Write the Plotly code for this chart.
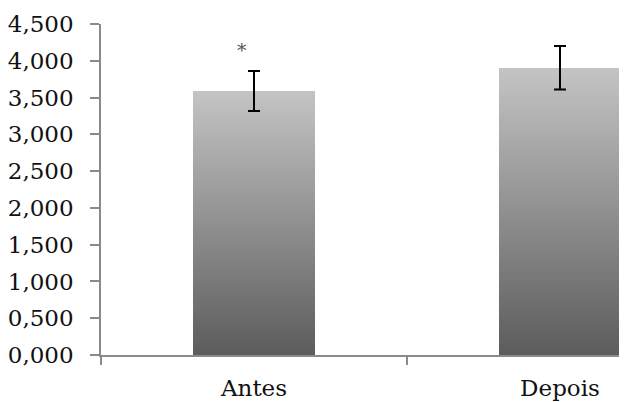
import plotly.graph_objects as go

categories = ["Antes", "Depois"]
means = [3.59, 3.905]
errors = [0.272, 0.296]
y_ticks = [0.0, 0.5, 1.0, 1.5, 2.0, 2.5, 3.0, 3.5, 4.0, 4.5]
star_label = "*"

x_pos = list(range(len(categories)))
N = 80
top_rgb = (196, 196, 196)
bot_rgb = (92, 92, 92)

fig = go.Figure()
for i in range(N):
    f = (i + 0.5) / N
    c = tuple(round(b + (t - b) * f) for t, b in zip(top_rgb, bot_rgb))
    bases = [v * i / N for v in means]
    heights = [v - b for v, b in zip(means, bases)]
    fig.add_trace(go.Bar(
        x=x_pos, y=heights, base=bases, width=0.4,
        marker=dict(color="rgb(%d,%d,%d)" % c, line=dict(width=0)),
        showlegend=False, hoverinfo="skip"))

fig.add_trace(go.Scatter(
    x=x_pos, y=means, mode="markers",
    marker=dict(opacity=0, size=1),
    error_y=dict(type="data", array=errors, visible=True,
                 color="black", thickness=2, width=6),
    showlegend=False, hoverinfo="skip"))

fig.add_annotation(x=-0.04, y=4.14, text=star_label, showarrow=False,
                   font=dict(family="DejaVu Serif", size=19, color="#555555"))

axis_col = "#8a8a8a"
# page body has an 8px margin, so the figure is 8px smaller and margins shifted
fig.update_layout(
    width=619, height=394,
    margin=dict(l=93, r=0, t=16, b=47),
    paper_bgcolor="white", plot_bgcolor="white",
    barmode="overlay", bargap=0,
    separators=",.",
    font=dict(family="DejaVu Serif", size=23, color="#111111"),
    xaxis=dict(range=[-0.5, 1.219], tickmode="array", tickvals=x_pos,
               ticktext=categories, ticks="", showgrid=False, zeroline=False,
               showline=True, linecolor=axis_col, linewidth=1.5,
               minor=dict(tickmode="array", tickvals=[-0.5, 0.5], ticks="outside",
                          ticklen=8, tickcolor=axis_col, tickwidth=1.5, showgrid=False),
               ticklabelstandoff=12, automargin=False, fixedrange=True),
    yaxis=dict(range=[0, 4.5], tickmode="array", tickvals=y_ticks,
               tickformat=".3f", ticks="outside", ticklen=9,
               tickcolor=axis_col, tickwidth=1.5, showgrid=False, zeroline=False,
               showline=True, linecolor=axis_col, linewidth=1.5,
               ticklabelstandoff=12, automargin=False),
)

fig.write_html("out.html")
